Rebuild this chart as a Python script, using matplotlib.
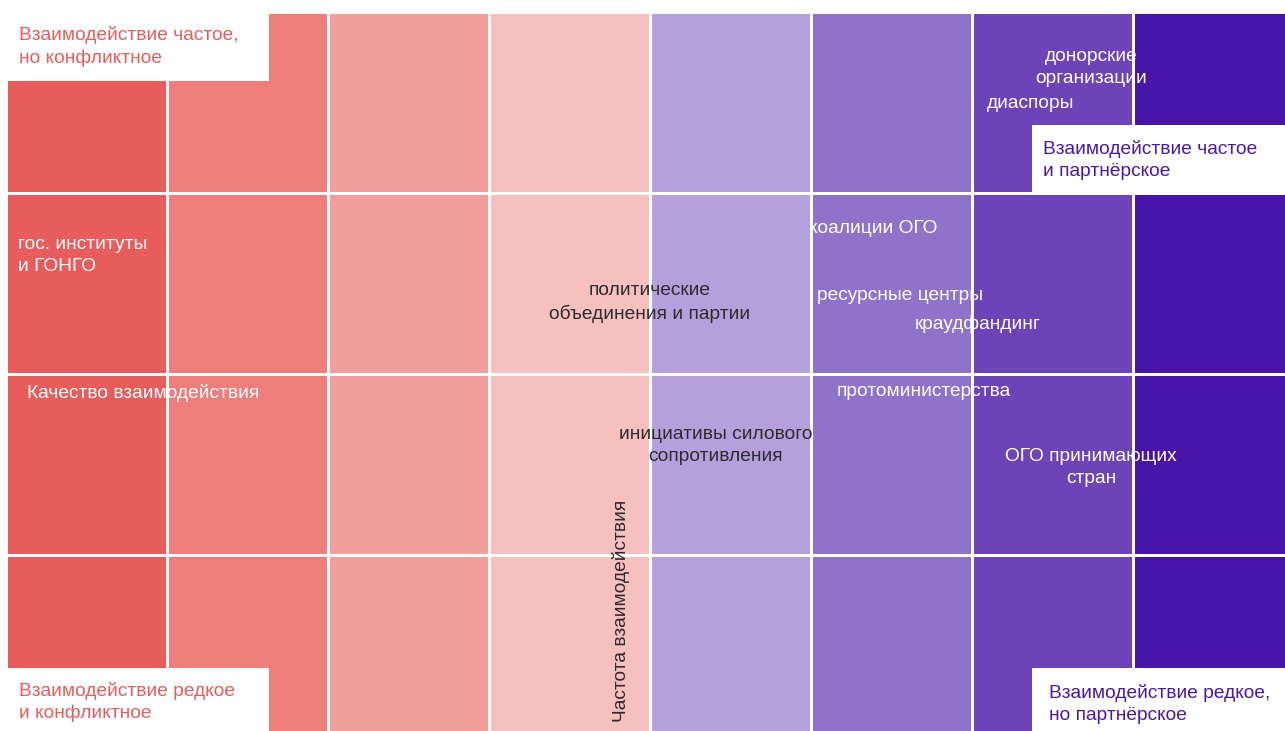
import numpy as np
import matplotlib.pyplot as plt
from matplotlib.colors import ListedColormap
from matplotlib.patches import Rectangle

plt.rcParams['font.family'] = ['Liberation Sans', 'DejaVu Sans']

# colour scale of interaction quality: conflict (red) -> partnership (purple)
quality_colors = ['#e95c5c', '#ee7d7c', '#f29e9c', '#f5c0be',
                  '#b4a0dd', '#8f72c9', '#6d44b7', '#4915a9']
n_rows = 4

# actors placed on the map (x = quality, y = frequency, in cell units)
white_labels = ['гос. институты\nи ГОНГО', 'коалиции ОГО', 'ресурсные центры',
                'краудфандинг', 'протоминистерства', 'ОГО принимающих\nстран',
                'донорские\nорганизации', 'диаспоры']
white_x = [0.075, 4.99, 5.04, 5.646, 5.16, 6.74, 6.74, 6.093]
white_y = [1.345, 1.197, 1.567, 1.727, 2.097, 2.517, 0.307, 0.507]
white_ha = ['left', 'left', 'left', 'left', 'left', 'center', 'center', 'left']

dark_labels = ['политические\nобъединения и партии', 'инициативы силового\nсопротивления']
dark_x = [4.0, 4.41]
dark_y = [1.607, 2.397]

corner_texts = ['Взаимодействие частое,\nно конфликтное',
                'Взаимодействие частое\nи партнёрское',
                'Взаимодействие редкое\nи конфликтное',
                'Взаимодействие редкое,\nно партнёрское']

W, H = 1285, 731
fig = plt.figure(figsize=(W / 100, H / 100), dpi=100)
ax = fig.add_axes([0, 0, 1, 1])

grid = np.tile(np.arange(len(quality_colors)), (n_rows, 1))
ax.pcolormesh(np.arange(len(quality_colors) + 1), np.arange(n_rows + 1), grid,
              cmap=ListedColormap(quality_colors), edgecolors='white', linewidth=0.8)

cw, ch = 161, 181
ax.set_xlim(-6 / cw, (W - 6) / cw)
ax.set_ylim((H - 12) / ch, -12 / ch)
ax.axis('off')

fs = 13.8
ls = 1.38
for t, x, y, ha in zip(white_labels, white_x, white_y, white_ha):
    ax.text(x, y, t, color='white', fontsize=fs, ha=ha, va='center', linespacing=ls,
            multialignment=ha)
for t, x, y in zip(dark_labels, dark_x, dark_y):
    ax.text(x, y, t, color='#2b2b2b', fontsize=fs, ha='center', va='center', linespacing=ls)

ax.text(0.13, 2.107, 'Качество взаимодействия', color='white', fontsize=fs, va='center')
ax.text(3.82, 3.31, 'Частота взаимодействия', color='#2b2b2b', fontsize=fs,
        rotation=90, ha='center', va='center')

# white corner boxes with quadrant captions (figure pixels)
boxes = [(0, 0, 269, 81), (1032, 125, 253, 67), (0, 668, 269, 63), (1032, 668, 253, 63)]
text_pos = [(19, 46.5), (1043, 160), (19, 702), (1049, 704)]
text_col = ['#e85c5c', '#4a16a8', '#e85c5c', '#4a16a8']
for (bx, by, bw, bh), (tx, ty), c, t in zip(boxes, text_pos, text_col, corner_texts):
    fig.add_artist(Rectangle((bx / W, 1 - (by + bh) / H), bw / W, bh / H,
                             transform=fig.transFigure, facecolor='white', edgecolor='none'))
    fig.text(tx / W, 1 - ty / H, t, color=c, fontsize=fs, va='center', linespacing=ls)

fig.savefig('out.png', dpi=100)
